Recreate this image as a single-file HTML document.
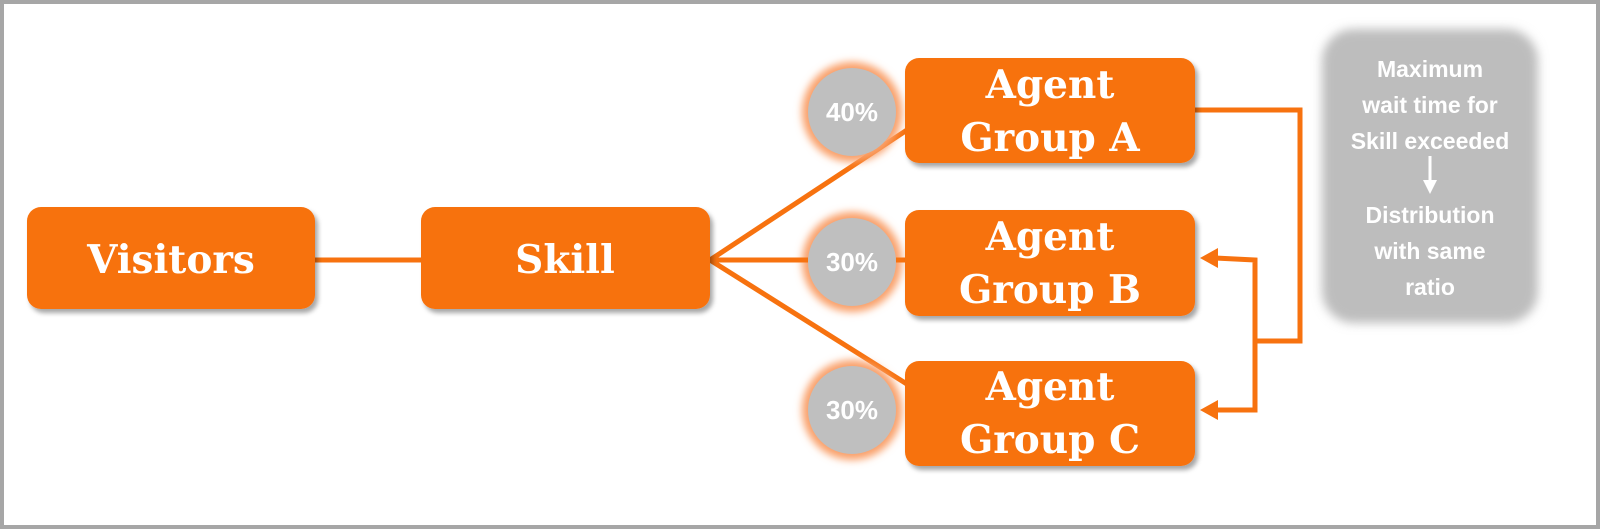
<!DOCTYPE html>
<html><head><style>
html,body{margin:0;padding:0;background:#fff}
svg{display:block}
.t{font-family:"DejaVu Serif","Liberation Serif",serif;font-weight:bold;fill:#fff}
.g{font-family:"Liberation Sans",sans-serif;font-weight:bold;fill:#fff}
</style></head><body>
<svg width="1600" height="529" viewBox="0 0 1600 529" xmlns="http://www.w3.org/2000/svg">
<defs>
<filter id="sh" x="-10%" y="-10%" width="130%" height="140%"><feDropShadow dx="3" dy="4" stdDeviation="2.5" flood-color="#000" flood-opacity="0.35"/></filter>
<filter id="bl" x="-10%" y="-10%" width="120%" height="120%"><feGaussianBlur stdDeviation="5"/></filter>
<filter id="gl" x="-30%" y="-30%" width="160%" height="160%"><feGaussianBlur stdDeviation="4"/></filter>
</defs>
<rect x="2" y="2" width="1596" height="525" fill="#fff" stroke="#a6a6a6" stroke-width="4"/>
<g stroke="#f7720f" stroke-width="5" fill="none">
<line x1="315" y1="260" x2="421" y2="260"/>
<line x1="710" y1="260" x2="910" y2="128"/>
<line x1="710" y1="260" x2="905" y2="260"/>
<line x1="710" y1="260" x2="910" y2="386"/>
<polyline points="1195,110 1300,110 1300,341 1255,341"/>
<polyline points="1215,258 1255,260 1255,410 1215,410"/>
</g>
<polygon points="1200,258 1218,248 1218,268" fill="#f7720f"/>
<polygon points="1200,410 1218,400 1218,420" fill="#f7720f"/>
<g>
<circle cx="852" cy="112" r="50" fill="#f9a06a" filter="url(#gl)"/>
<circle cx="852" cy="112" r="44" fill="#bfbfbf"/>
<circle cx="852" cy="262" r="50" fill="#f9a06a" filter="url(#gl)"/>
<circle cx="852" cy="262" r="44" fill="#bfbfbf"/>
<circle cx="852" cy="410" r="50" fill="#f9a06a" filter="url(#gl)"/>
<circle cx="852" cy="410" r="44" fill="#bfbfbf"/>
</g>
<line x1="710" y1="260" x2="905" y2="260" stroke="#f7720f" stroke-width="5" stroke-dasharray="98 88"/>
<g font-family="Liberation Sans,sans-serif" font-weight="bold" font-size="26" fill="#fff" text-anchor="middle">
<text x="852" y="121">40%</text><text x="852" y="271">30%</text><text x="852" y="419">30%</text>
</g>
<g fill="#f7720f" filter="url(#sh)">
<rect x="27" y="207" width="288" height="102" rx="14"/>
<rect x="421" y="207" width="289" height="102" rx="14"/>
<rect x="905" y="58" width="290" height="105" rx="14"/>
<rect x="905" y="210" width="290" height="106" rx="14"/>
<rect x="905" y="361" width="290" height="105" rx="14"/>
</g>
<g class="t" text-anchor="middle" font-size="39">
<text x="171" y="273">Visitors</text>
<text x="565" y="273">Skill</text>
<text x="1050" y="98">Agent</text><text x="1050" y="151">Group A</text>
<text x="1050" y="250">Agent</text><text x="1050" y="303">Group B</text>
<text x="1050" y="400">Agent</text><text x="1050" y="453">Group C</text>
</g>
<rect x="1322" y="29" width="216" height="294" rx="32" fill="#bdbdbd" filter="url(#bl)"/>
<g class="g" text-anchor="middle" font-size="23">
<text x="1430" y="77">Maximum</text>
<text x="1430" y="113">wait time for</text>
<text x="1430" y="149">Skill exceeded</text>
<text x="1430" y="223">Distribution</text>
<text x="1430" y="259">with same</text>
<text x="1430" y="295">ratio</text>
</g>
<line x1="1430" y1="156" x2="1430" y2="182" stroke="#fff" stroke-width="3"/>
<polygon points="1423,180 1437,180 1430,194" fill="#fff"/>
</svg>
</body></html>
